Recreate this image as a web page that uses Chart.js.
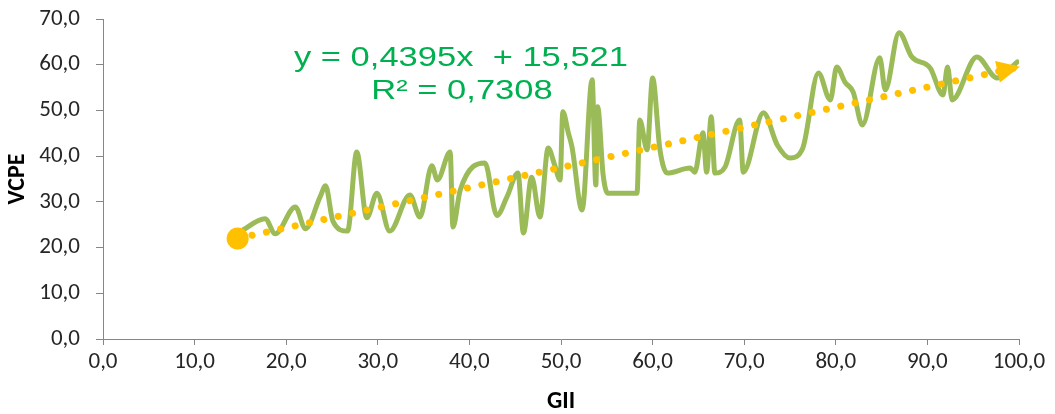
<!DOCTYPE html>
<html>
<head>
<meta charset="utf-8">
<script src="https://cdn.jsdelivr.net/npm/chart.js@4"></script>
<style>
  html, body { margin: 0; padding: 0; background: #fff; overflow: hidden; }
  #wrap { width: 1055px; height: 414px; }
</style>
</head>
<body>
<div id="wrap"><canvas id="chart"></canvas></div>
<script>
// GII (x) vs VCPE (y)
const giiValues = [15.0, 17.7, 18.8, 21.0, 22.1, 23.7, 24.3, 25.1, 26.7, 27.7, 28.8, 29.9, 31.3, 33.5, 34.6,
  35.9, 36.5, 37.9, 38.2, 39.0, 41.7, 43.0, 44.1, 45.3, 45.9, 46.8, 47.7, 48.6, 49.3, 49.9, 50.2, 50.8,
  51.2, 52.3, 53.4, 53.8, 54.0, 54.6, 55.1, 58.3, 58.6, 59.4, 60.0, 60.8, 61.6, 64.1, 64.6, 65.5, 65.9,
  66.4, 66.8, 67.9, 69.5, 69.9, 72.1, 73.6, 75.0, 76.4, 78.1, 79.4, 80.1, 81.0, 81.9, 82.9, 84.8, 85.4,
  86.9, 88.3, 90.3, 91.7, 92.2, 92.7, 95.4, 97.6, 99.8];
const vcpeValues = [23.5, 26.3, 23.0, 28.9, 24.1, 31.1, 33.5, 25.8, 23.6, 40.9, 26.5, 31.9, 23.6, 31.5, 26.7,
  37.9, 34.8, 40.9, 24.5, 32.6, 38.5, 27.0, 31.1, 36.3, 23.2, 35.4, 26.7, 41.8, 38.1, 34.8, 49.7, 45.1,
  42.0, 28.2, 56.7, 33.7, 50.8, 35.9, 31.9, 31.9, 47.9, 41.4, 57.1, 41.4, 36.3, 37.4, 36.5, 45.1, 36.5,
  48.6, 36.3, 37.6, 47.9, 36.5, 49.5, 42.5, 39.6, 41.8, 58.2, 52.3, 59.5, 56.2, 54.0, 46.8, 61.5, 54.5,
  67.0, 61.7, 59.3, 53.4, 59.5, 52.3, 61.7, 57.1, 60.6];

// linear trend line end points
const trendX = [14.7, 100];
const trendY = [22.0, 59.5];

const equationLines = ["y = 0,4395x  + 15,521", "R² = 0,7308"];

const yTicks = [0, 10, 20, 30, 40, 50, 60, 70];
const xTicks = [0, 10, 20, 30, 40, 50, 60, 70, 80, 90, 100];

const fmt = v => v.toFixed(1).replace(".", ",");
const tickFont = { family: "Calibri, Carlito, Lato, sans-serif", size: 23 };
const titleFont = { family: "Calibri, Carlito, Lato, sans-serif", size: 24, weight: "bold", lineHeight: 1 };

const canvas = document.getElementById("chart");
canvas.width = 1055;
canvas.height = 414;

const arrowPlugin = {
  id: "arrowHead",
  afterDatasetsDraw(chart) {
    const pts = chart.getDatasetMeta(1).data;
    if (pts.length < 2) return;
    const a = pts[pts.length - 2], b = pts[pts.length - 1];
    const ang = Math.atan2(b.y - a.y, b.x - a.x);
    const ctx = chart.ctx;
    ctx.save();
    ctx.translate(b.x, b.y);
    ctx.rotate(ang);
    ctx.fillStyle = "#FFC000";
    ctx.beginPath();
    ctx.moveTo(1, 0);
    ctx.lineTo(-22, -11);
    ctx.lineTo(-22, 11);
    ctx.closePath();
    ctx.fill();
    ctx.restore();
  }
};

const equationPlugin = {
  id: "equation",
  afterDraw(chart) {
    const ctx = chart.ctx;
    ctx.save();
    ctx.fillStyle = "#00B050";
    ctx.font = "27px 'Liberation Sans', Arial, sans-serif";
    ctx.textAlign = "center";
    ctx.textBaseline = "alphabetic";
    const sx = 334 / ctx.measureText(equationLines[0]).width;
    const rows = [[461, 66], [462, 99]];
    equationLines.forEach((t, i) => {
      ctx.save();
      ctx.translate(rows[i][0], rows[i][1]);
      ctx.scale(sx, 1);
      ctx.fillText(t, 0, 0);
      ctx.restore();
    });
    ctx.restore();
  }
};

new Chart(canvas, {
  type: "scatter",
  data: {
    datasets: [
      {
        label: "VCPE",
        data: giiValues.map((x, i) => ({ x: x, y: vcpeValues[i] })),
        showLine: true,
        borderColor: "#9BBB59",
        borderWidth: 5,
        pointRadius: 0,
        cubicInterpolationMode: "monotone",
        borderCapStyle: "round",
        borderJoinStyle: "round",
        order: 2
      },
      {
        label: "Trend",
        data: trendX.map((x, i) => ({ x: x, y: trendY[i] })),
        showLine: true,
        borderColor: "#FFC000",
        borderWidth: 7,
        borderDash: [0.1, 14.6],
        borderCapStyle: "round",
        pointRadius: [11, 0],
        pointBackgroundColor: "#FFC000",
        pointBorderWidth: 0,
        clip: false,
        order: 1
      }
    ]
  },
  options: {
    responsive: false,
    animation: false,
    events: [],
    layout: { padding: { left: 0, top: 19, right: 36, bottom: 0 } },
    plugins: { legend: { display: false }, tooltip: { enabled: false } },
    scales: {
      x: {
        type: "linear",
        min: 0, max: 100,
        afterFit: s => { s.height = 75; s.paddingLeft = 0; s.paddingRight = 0; },
        afterBuildTicks: s => { s.ticks = xTicks.map(v => ({ value: v })); },
        ticks: { callback: v => fmt(v), font: tickFont, color: "#262626", padding: 3, maxRotation: 0 },
        grid: { drawOnChartArea: false, drawTicks: true, tickLength: 6, color: "#868686" },
        border: { color: "#868686", width: 1 },
        title: { display: true, text: "GII", font: titleFont, color: "#000", padding: { top: 0, bottom: 0 } }
      },
      y: {
        type: "linear",
        min: 0, max: 70,
        afterFit: s => { s.width = 103; s.paddingTop = 0; s.paddingBottom = 0; },
        afterBuildTicks: s => { s.ticks = yTicks.map(v => ({ value: v })); },
        ticks: { callback: v => fmt(v), font: tickFont, color: "#262626", padding: 16 },
        grid: { drawOnChartArea: false, drawTicks: true, tickLength: 7, color: "#868686" },
        border: { color: "#868686", width: 1 },
        title: { display: true, text: "VCPE", font: titleFont, color: "#000", padding: { top: 6, bottom: 0 } }
      }
    }
  },
  plugins: [arrowPlugin, equationPlugin]
});
</script>
</body>
</html>
